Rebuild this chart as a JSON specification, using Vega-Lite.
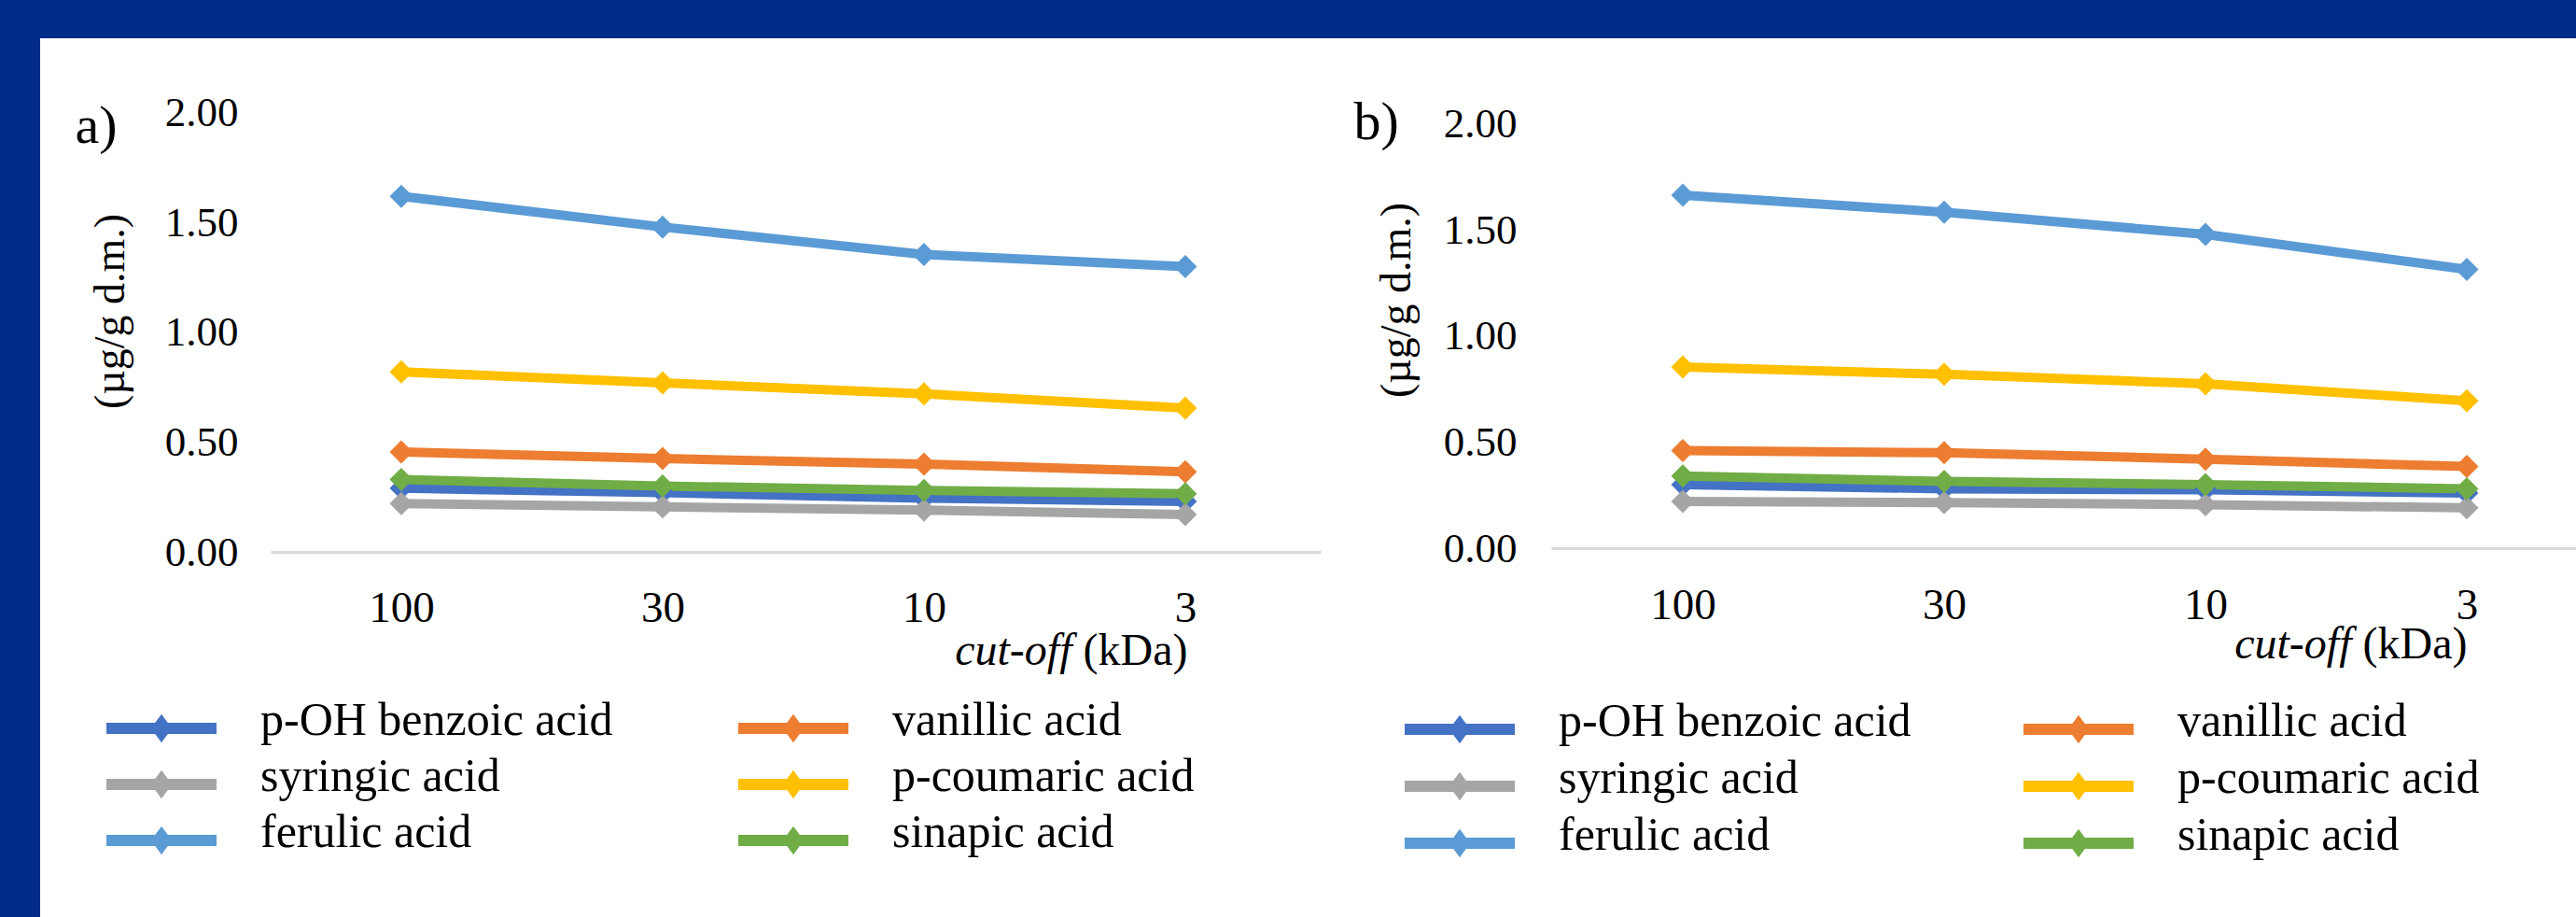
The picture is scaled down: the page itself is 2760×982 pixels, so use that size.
{
  "$schema": "https://vega.github.io/schema/vega-lite/v6.json",
  "padding": 0,
  "background": "white",
  "config": {
    "font": "Liberation Serif",
    "view": {"stroke": null},
    "axis": {"labelColor": "#000000", "titleColor": "#000000", "titleFontWeight": "normal", "grid": false, "ticks": false}
  },
  "datasets": {
    "blank": [{"k": 1}],
    "a": [
      {"series": "p-OH benzoic acid", "cutoff": "100", "value": 0.29},
      {"series": "p-OH benzoic acid", "cutoff": "30", "value": 0.27},
      {"series": "p-OH benzoic acid", "cutoff": "10", "value": 0.245},
      {"series": "p-OH benzoic acid", "cutoff": "3", "value": 0.23},
      {"series": "vanillic acid", "cutoff": "100", "value": 0.455},
      {"series": "vanillic acid", "cutoff": "30", "value": 0.425},
      {"series": "vanillic acid", "cutoff": "10", "value": 0.40},
      {"series": "vanillic acid", "cutoff": "3", "value": 0.365},
      {"series": "syringic acid", "cutoff": "100", "value": 0.22},
      {"series": "syringic acid", "cutoff": "30", "value": 0.205},
      {"series": "syringic acid", "cutoff": "10", "value": 0.19},
      {"series": "syringic acid", "cutoff": "3", "value": 0.17},
      {"series": "p-coumaric acid", "cutoff": "100", "value": 0.82},
      {"series": "p-coumaric acid", "cutoff": "30", "value": 0.77},
      {"series": "p-coumaric acid", "cutoff": "10", "value": 0.72},
      {"series": "p-coumaric acid", "cutoff": "3", "value": 0.655},
      {"series": "ferulic acid", "cutoff": "100", "value": 1.62},
      {"series": "ferulic acid", "cutoff": "30", "value": 1.48},
      {"series": "ferulic acid", "cutoff": "10", "value": 1.355},
      {"series": "ferulic acid", "cutoff": "3", "value": 1.30},
      {"series": "sinapic acid", "cutoff": "100", "value": 0.33},
      {"series": "sinapic acid", "cutoff": "30", "value": 0.30},
      {"series": "sinapic acid", "cutoff": "10", "value": 0.28},
      {"series": "sinapic acid", "cutoff": "3", "value": 0.265}
    ],
    "b": [
      {"series": "p-OH benzoic acid", "cutoff": "100", "value": 0.30},
      {"series": "p-OH benzoic acid", "cutoff": "30", "value": 0.28},
      {"series": "p-OH benzoic acid", "cutoff": "10", "value": 0.275},
      {"series": "p-OH benzoic acid", "cutoff": "3", "value": 0.26},
      {"series": "vanillic acid", "cutoff": "100", "value": 0.46},
      {"series": "vanillic acid", "cutoff": "30", "value": 0.45},
      {"series": "vanillic acid", "cutoff": "10", "value": 0.42},
      {"series": "vanillic acid", "cutoff": "3", "value": 0.385},
      {"series": "syringic acid", "cutoff": "100", "value": 0.22},
      {"series": "syringic acid", "cutoff": "30", "value": 0.215},
      {"series": "syringic acid", "cutoff": "10", "value": 0.205},
      {"series": "syringic acid", "cutoff": "3", "value": 0.19},
      {"series": "p-coumaric acid", "cutoff": "100", "value": 0.855},
      {"series": "p-coumaric acid", "cutoff": "30", "value": 0.82},
      {"series": "p-coumaric acid", "cutoff": "10", "value": 0.775},
      {"series": "p-coumaric acid", "cutoff": "3", "value": 0.695},
      {"series": "ferulic acid", "cutoff": "100", "value": 1.665},
      {"series": "ferulic acid", "cutoff": "30", "value": 1.585},
      {"series": "ferulic acid", "cutoff": "10", "value": 1.48},
      {"series": "ferulic acid", "cutoff": "3", "value": 1.315},
      {"series": "sinapic acid", "cutoff": "100", "value": 0.34},
      {"series": "sinapic acid", "cutoff": "30", "value": 0.315},
      {"series": "sinapic acid", "cutoff": "10", "value": 0.30},
      {"series": "sinapic acid", "cutoff": "3", "value": 0.28}
    ]
  },
  "spacing": 0,
  "bounds": "flush",
  "vconcat": [
    {
      "width": 2760, "height": 41,
      "view": {"fill": "#002B89", "stroke": null},
      "data": {"name": "blank"},
      "mark": {"type": "text", "text": ""}
    },
    {
      "spacing": 247,
      "bounds": "flush",
      "resolve": {"legend": {"color": "independent"}},
      "hconcat": [
        {
          "width": 43, "height": 941,
          "view": {"fill": "#002B89", "stroke": null},
          "data": {"name": "blank"},
          "mark": {"type": "text", "text": ""}
        },
        {
          "width": 1125, "height": 550,
          "data": {"name": "a"},
          "encoding": {
            "color": {
              "field": "series", "type": "nominal",
              "scale": {"domain": ["p-OH benzoic acid", "syringic acid", "ferulic acid", "vanillic acid", "p-coumaric acid", "sinapic acid"], "range": ["#4472C4", "#A5A5A5", "#5B9BD5", "#ED7D31", "#FFC000", "#70AD47"]},
              "legend": {"title": null, "orient": "none", "legendX": -176, "legendY": 714, "columns": 2, "columnPadding": 134, "rowPadding": 2, "clipHeight": 50, "padding": 0,
                "symbolType": "M-1,-0.1L1,-0.1L1,0.1L-1,0.1ZM0,-0.26L0.19,0L0,0.26L-0.19,0Z", "symbolSize": 13924, "symbolStrokeWidth": 0,
                "labelOffset": 47, "labelFontSize": 50, "labelColor": "#000000", "labelLimit": 1000, "labelBaseline": "alphabetic",
                "encode": {"symbols": {"update": {"fill": {"scale": "color", "field": "value"}, "fillOpacity": {"value": 1}, "strokeWidth": {"value": 0}}}, "labels": {"update": {"dy": {"value": 7}}}}}
            }
          },
          "layer": [
            {
              "mark": {"type": "line", "strokeWidth": 10},
              "encoding": {
                "x": {"field": "cutoff", "type": "ordinal", "sort": ["100", "30", "10", "3"], "scale": {"type": "point", "padding": 0.509, "align": 0.491},
                  "axis": {"orient": "bottom", "domain": true, "domainColor": "#D9D9D9", "domainWidth": 3, "ticks": false, "grid": false, "labelAngle": 0, "labelFontSize": 47, "labelPadding": 37, "title": "(kDa)", "titleFontSize": 48, "titleAlign": "right", "titleX": 982, "titleY": 120, "titleBaseline": "alphabetic"}},
                "y": {"field": "value", "type": "quantitative", "scale": {"domain": [0, 2.34], "nice": false, "zero": true},
                  "axis": {"orient": "left", "values": [0, 0.5, 1, 1.5, 2], "format": ".2f", "domain": false, "ticks": false, "grid": false, "labelFontSize": 45, "labelPadding": 35, "title": "(µg/g d.m.)", "titleFontSize": 46, "titleX": -172, "titleY": 292, "titleAngle": -90, "titleBaseline": "middle", "titleAlign": "center"}}
              }
            },
            {
              "mark": {"type": "point", "shape": "diamond", "filled": true, "size": 625, "opacity": 1},
              "encoding": {
                "x": {"field": "cutoff", "type": "ordinal", "sort": ["100", "30", "10", "3"],
                  "axis": {"orient": "bottom", "labels": false, "domain": false, "ticks": false, "grid": false, "title": "cut-off", "titleFontStyle": "italic", "titleFontSize": 48, "titleAlign": "right", "titleX": 858, "titleY": 120, "titleBaseline": "alphabetic"}},
                "y": {"field": "value", "type": "quantitative",
                  "axis": {"orient": "left", "labels": false, "domain": false, "ticks": false, "grid": false, "title": "a)", "titleAngle": 0, "titleFontSize": 58, "titleAlign": "left", "titleBaseline": "alphabetic", "titleX": -210, "titleY": 111}}
              }
            }
          ],
          "resolve": {"axis": {"x": "independent", "y": "independent"}}
        },
        {
          "width": 1098, "height": 546,
          "data": {"name": "b"},
          "encoding": {
            "color": {
              "field": "series", "type": "nominal",
              "scale": {"domain": ["p-OH benzoic acid", "syringic acid", "ferulic acid", "vanillic acid", "p-coumaric acid", "sinapic acid"], "range": ["#4472C4", "#A5A5A5", "#5B9BD5", "#ED7D31", "#FFC000", "#70AD47"]},
              "legend": {"title": null, "orient": "none", "legendX": -157, "legendY": 715, "columns": 2, "columnPadding": 120, "rowPadding": 3, "clipHeight": 50, "padding": 0,
                "symbolType": "M-1,-0.1L1,-0.1L1,0.1L-1,0.1ZM0,-0.26L0.19,0L0,0.26L-0.19,0Z", "symbolSize": 13924, "symbolStrokeWidth": 0,
                "labelOffset": 47, "labelFontSize": 50, "labelColor": "#000000", "labelLimit": 1000, "labelBaseline": "alphabetic",
                "encode": {"symbols": {"update": {"fill": {"scale": "color", "field": "value"}, "fillOpacity": {"value": 1}, "strokeWidth": {"value": 0}}}, "labels": {"update": {"dy": {"value": 7}}}}}
            }
          },
          "layer": [
            {
              "mark": {"type": "line", "strokeWidth": 10},
              "encoding": {
                "x": {"field": "cutoff", "type": "ordinal", "sort": ["100", "30", "10", "3"], "scale": {"type": "point", "padding": 0.4607, "align": 0.5465},
                  "axis": {"orient": "bottom", "domain": true, "domainColor": "#D9D9D9", "domainWidth": 3, "ticks": false, "grid": false, "labelAngle": 0, "labelFontSize": 47, "labelPadding": 38, "title": "(kDa)", "titleFontSize": 48, "titleAlign": "right", "titleX": 981, "titleY": 117, "titleBaseline": "alphabetic"}},
                "y": {"field": "value", "type": "quantitative", "scale": {"domain": [0, 2.405], "nice": false, "zero": true},
                  "axis": {"orient": "left", "values": [0, 0.5, 1, 1.5, 2], "format": ".2f", "domain": false, "ticks": false, "grid": false, "labelFontSize": 45, "labelPadding": 37, "title": "(µg/g d.m.)", "titleFontSize": 46, "titleX": -166, "titleY": 280, "titleAngle": -90, "titleBaseline": "middle", "titleAlign": "center"}}
              }
            },
            {
              "mark": {"type": "point", "shape": "diamond", "filled": true, "size": 625, "opacity": 1},
              "encoding": {
                "x": {"field": "cutoff", "type": "ordinal", "sort": ["100", "30", "10", "3"],
                  "axis": {"orient": "bottom", "labels": false, "domain": false, "ticks": false, "grid": false, "title": "cut-off", "titleFontStyle": "italic", "titleFontSize": 48, "titleAlign": "right", "titleX": 857, "titleY": 117, "titleBaseline": "alphabetic"}},
                "y": {"field": "value", "type": "quantitative",
                  "axis": {"orient": "left", "labels": false, "domain": false, "ticks": false, "grid": false, "title": "b)", "titleAngle": 0, "titleFontSize": 58, "titleAlign": "left", "titleBaseline": "alphabetic", "titleX": -212, "titleY": 107}}
              }
            }
          ],
          "resolve": {"axis": {"x": "independent", "y": "independent"}}
        }
      ]
    }
  ]
}
